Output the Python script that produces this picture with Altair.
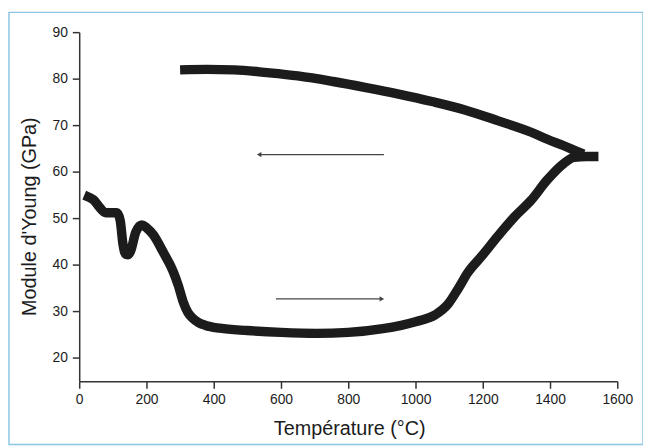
import altair as alt
import pandas as pd

# Heating curve (lower branch, increasing temperature)
heat_T = [15, 30, 44, 59, 79, 112, 122, 130, 138, 146, 153, 168, 186, 200, 220, 250, 280, 295, 309, 323, 338, 355, 376, 418, 500, 600, 706, 800, 903, 1000, 1059, 1097, 1126, 1156, 1197, 1244, 1294, 1344, 1391, 1441, 1471, 1509, 1544]
heat_E = [55, 54.5, 53.9, 52.5, 51.2, 51.2, 49.5, 44.5, 42.3, 42.2, 43, 47, 48.6, 48, 46.5, 42.7, 38.5, 35.5, 32.1, 29.8, 28.5, 27.6, 27, 26.4, 25.9, 25.5, 25.3, 25.5, 26.3, 27.8, 29.3, 31.6, 34.8, 38.4, 41.9, 46.1, 50.3, 53.9, 58.2, 61.8, 63.1, 63.3, 63.3]

# Cooling curve (upper branch, decreasing temperature)
cool_T = [1500, 1480, 1441, 1392, 1344, 1244, 1147, 1049, 950, 853, 755, 650, 559, 461, 380, 300]
cool_E = [63.8, 64.4, 65.6, 67.0, 68.5, 71.0, 73.3, 75.1, 76.7, 78.1, 79.4, 80.6, 81.3, 81.9, 82.0, 81.9]

# Arrows: start/end temperature and modulus level
arrow_T0 = [906, 585]
arrow_T1 = [535, 900]
arrow_E = [63.7, 32.7]
arrow_shape = ["triangle-left", "triangle-right"]

curves = pd.DataFrame({
    "T": heat_T + cool_T,
    "E": heat_E + cool_E,
    "branch": ["chauffage"] * len(heat_T) + ["refroidissement"] * len(cool_T),
})
arrows = pd.DataFrame({"T0": arrow_T0, "T1": arrow_T1, "E": arrow_E, "shape": arrow_shape})

ink = "#1c1c1c"
font = "Liberation Sans"

x_scale = alt.Scale(domain=[0, 1600], nice=False, zero=False)
y_scale = alt.Scale(domain=[15, 90], nice=False, zero=False)

x_axis = alt.Axis(
    values=list(range(0, 1601, 100)),
    format="d",
    labelExpr="datum.value % 200 === 0 ? datum.label : ''",
    tickSize={"condition": {"test": "datum.value % 200 !== 0", "value": 4}, "value": 7},
    title="Température (°C)",
    titleFontSize=20, titleFontWeight="normal", titleFont=font, titleColor=ink,
    titleX=273, titleY=54, titleBaseline="alphabetic",
    labelFontSize=14, labelFont=font, labelColor=ink, labelPadding=4,
    labelFlush=False, grid=False, domainColor="#333", tickColor="#333",
    domainWidth=1.5, tickWidth=1.5,
)
y_axis = alt.Axis(
    values=list(range(20, 91, 5)),
    format="d",
    labelExpr="datum.value % 10 === 0 ? datum.label : ''",
    tickSize={"condition": {"test": "datum.value % 10 !== 0", "value": 3}, "value": 7},
    title="Module d'Young (GPa)",
    titleFontSize=20, titleFontWeight="normal", titleFont=font, titleColor=ink,
    titleX=-50, titleY=186, titleAngle=-90, titleAlign="center", titleBaseline="middle",
    labelFontSize=14, labelFont=font, labelColor=ink, labelPadding=5,
    grid=False, domainColor="#333", tickColor="#333",
    domainWidth=1.5, tickWidth=1.5,
)

lines = alt.Chart(curves).mark_line(
    color=ink, strokeWidth=9.5, strokeJoin="round", strokeCap="butt", interpolate="monotone"
).encode(
    x=alt.X("T:Q", scale=x_scale, axis=x_axis),
    y=alt.Y("E:Q", scale=y_scale, axis=y_axis),
    detail="branch:N",
    order="T:Q",
)

arrow_lines = alt.Chart(arrows).mark_rule(color="#444", strokeWidth=1.2).encode(
    x="T0:Q", x2="T1:Q", y="E:Q"
)
arrow_heads = alt.Chart(arrows).mark_point(
    filled=True, color="#444", size=28, opacity=1
).encode(
    x="T1:Q", y="E:Q", shape=alt.Shape("shape:N", scale=None, legend=None)
)

frame = alt.Chart(pd.DataFrame({"k": [0]})).mark_rect(
    fill="transparent", stroke="#8cc6e4", strokeWidth=1.5
).encode(
    x=alt.value(-71), x2=alt.value(570), y=alt.value(-20), y2=alt.value(417)
)

chart = alt.layer(frame, lines, arrow_lines, arrow_heads).properties(
    width=544, height=353,
    padding={"left": 72, "top": 22, "right": 26, "bottom": 64},
    autosize=alt.AutoSizeParams(type="none"),
    background="white",
).configure_view(strokeWidth=0)

chart.save("out.html", embed_options={"renderer": "svg", "actions": False})
